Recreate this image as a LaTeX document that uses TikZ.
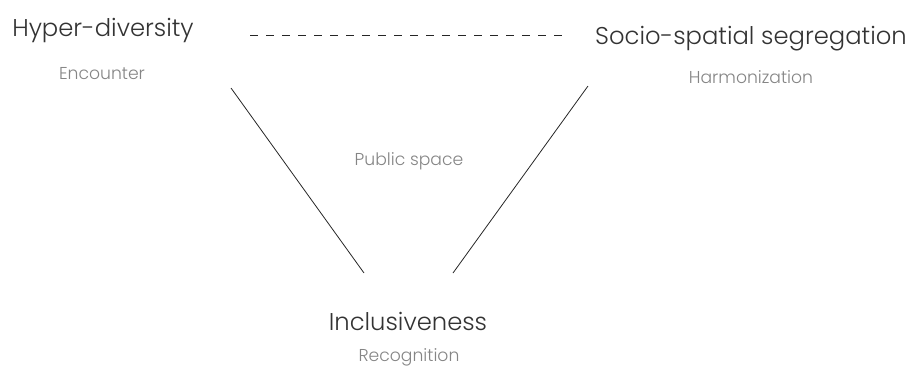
\documentclass[tikz,border=0pt]{standalone}
\usepackage{fontspec}
\setmainfont{Poppins}[UprightFont=* Light]
\definecolor{maintxt}{HTML}{333333}
\definecolor{subtxt}{HTML}{858585}
\begin{document}
\begin{tikzpicture}[x=0.75pt,y=-0.75pt,
  maintext/.style={text=maintxt,font=\fontsize{18.2}{22}\selectfont,inner sep=0pt},
  subtext/.style={text=subtxt,font=\fontsize{12.9}{15}\selectfont,inner sep=0pt},
  link/.style={draw=black!85,line width=0.6pt}]
\useasboundingbox (0,0) rectangle (910,369);
\node[maintext] (hyper) at (103,31) {Hyper-diversity};
\node[subtext] (enc) at (102,74) {Encounter};
\node[maintext] (socio) at (751,39) {Socio-spatial segregation};
\node[subtext] (harm) at (751,77) {Harmonization};
\node[subtext] (pub) at (409,161) {Public space};
\node[maintext] (incl) at (408,321) {Inclusiveness};
\node[subtext] (rec) at (409,357) {Recognition};
\coordinate (d1) at (250,35);
\coordinate (d2) at (565,35);
\coordinate (l1) at (231,88);
\coordinate (l2) at (364,273);
\coordinate (r1) at (588,86);
\coordinate (r2) at (453,273);
\draw[link,dash pattern=on 6pt off 6pt] (d1) -- (d2);
\draw[link] (l1) -- (l2);
\draw[link] (r1) -- (r2);
\end{tikzpicture}
\end{document}
